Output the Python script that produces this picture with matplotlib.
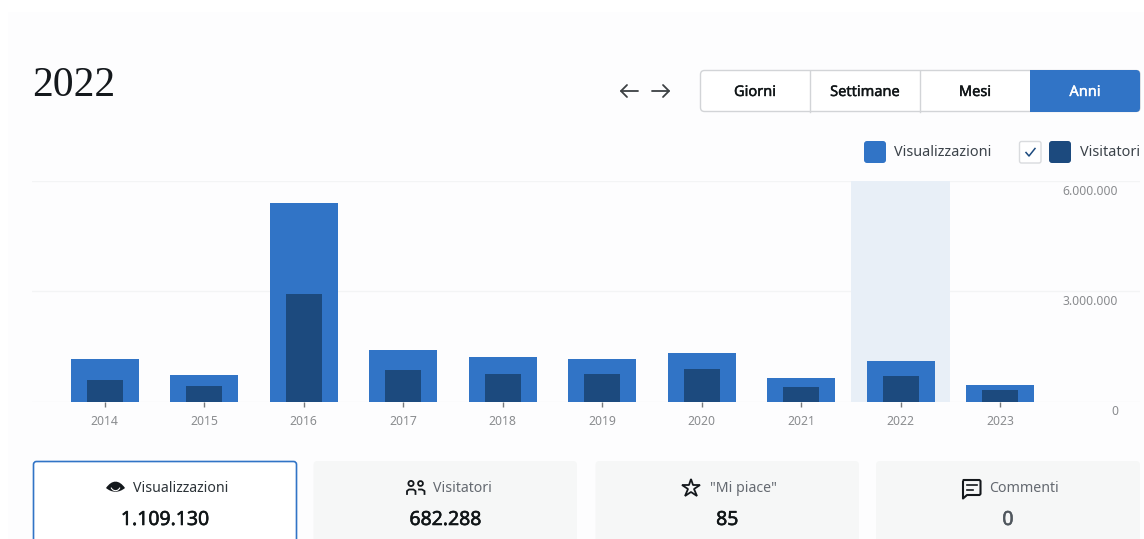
import matplotlib
matplotlib.use("Agg")
import matplotlib.pyplot as plt
import matplotlib.patheffects as pe
from matplotlib.patches import FancyBboxPatch, Rectangle, PathPatch, Circle, Wedge
from matplotlib.path import Path

# ─── Data ─────────────────────────────────────────────────────────────────────
years = [2014, 2015, 2016, 2017, 2018, 2019, 2020, 2021, 2022, 2023]
views = [1170000, 720000, 5400000, 1400000, 1210000, 1157000, 1320000, 640000, 1109130, 450000]
visitors = [585000, 420000, 2930000, 845000, 750000, 735000, 885000, 395000, 682288, 300000]
y_ticks = [0, 3000000, 6000000]
y_tick_labels = ["0", "3.000.000", "6.000.000"]
selected_year = 2022

periods = ["Giorni", "Settimane", "Mesi", "Anni"]
stat_names = ["Visualizzazioni", "Visitatori", '"Mi piace"', "Commenti"]
stat_values = ["1.109.130", "682.288", "85", "0"]

# ─── Style ────────────────────────────────────────────────────────────────────
BLUE = "#3174c6"
NAVY = "#1c4a7e"
BAND = "#e8eff7"
PANEL = "#fdfdfe"
CARD = "#f6f7f7"
GRID = "#f3f4f5"
TICK = "#8a8c8f"
INK = "#14181c"
FONT = "Noto Sans"

plt.rcParams["font.family"] = [FONT, "DejaVu Sans"]

W, H = 1144, 539
fig = plt.figure(figsize=(W / 100, H / 100), dpi=100, facecolor="white")

# Page furniture is laid out in pixels on a full-figure axes
ui = fig.add_axes([0, 0, 1, 1])
ui.set_xlim(0, W)
ui.set_ylim(H, 0)
ui.axis("off")


def round_box(x0, y0, x1, y1, radius=4, **kw):
    box = FancyBboxPatch((x0 + radius, y0 + radius), x1 - x0 - 2 * radius, y1 - y0 - 2 * radius,
                         boxstyle=f"round,pad={radius},rounding_size={radius}", **kw)
    ui.add_patch(box)
    return box


def heavy(color, width=0.3):
    # the installed Noto Sans has no semibold cut, so thicken the regular one
    return [pe.withStroke(linewidth=width, foreground=color)]


ui.add_patch(Rectangle((8, 12), W - 8, H - 12, fc=PANEL, ec="none"))
ui.text(32, 86, "2022", family=["Liberation Serif", "DejaVu Serif"], fontsize=30,
        color=INK, ha="left", va="center")

# Previous / next arrows
for x_tip, x_tail in [(621, 638), (669, 652)]:
    direction = 1 if x_tip < x_tail else -1
    ui.plot([x_tail, x_tip], [91, 91], color="#3c4043", lw=1.3, solid_capstyle="round")
    ui.plot([x_tip + 6 * direction, x_tip, x_tip + 6 * direction], [85, 91, 97],
            color="#3c4043", lw=1.3, solid_capstyle="round", solid_joinstyle="round")

# Period switcher
btn_left, btn_w = 700, 110
round_box(700.5, 70.5, 1140, 111.5, radius=4, fc="white", ec="#d2d4d7", lw=1)
round_box(1030, 70, 1140, 112, radius=4, fc=BLUE, ec="none")
ui.add_patch(Rectangle((1030, 70), 8, 42, fc=BLUE, ec="none"))
for i, label in enumerate(periods):
    cx = btn_left + btn_w * (i + 0.5)
    if 0 < i < 3:
        ui.plot([btn_left + btn_w * i] * 2, [70.5, 111.5], color="#d2d4d7", lw=1)
    color = "white" if label == "Anni" else "#101517"
    ui.text(cx, 92.5, label, fontsize=10.5, color=color, ha="center", va="center",
            path_effects=heavy(color))

# Legend
round_box(864, 141, 886, 163, radius=3, fc=BLUE, ec="none")
ui.text(894, 153, "Visualizzazioni", fontsize=10.4, color="#3c434a", ha="left", va="center")
round_box(1019.5, 141.5, 1041, 163, radius=2, fc="white", ec="#d9dbde", lw=1)
ui.plot([1026, 1029, 1035], [152.5, 156, 148.5], color=NAVY, lw=1.1)
round_box(1049, 141, 1071, 163, radius=3, fc=NAVY, ec="none")
ui.text(1080, 153, "Visitatori", fontsize=10.4, color="#3c434a", ha="left", va="center")

# Summary cards, cut off by the bottom of the page
card_edges = [(33, 297), (313.5, 577), (595.5, 859), (876, 1140)]
label_starts = [133, 433, 710, 989]
for i, (x0, x1) in enumerate(card_edges):
    if i == 0:
        round_box(x0 + 0.5, 461.5, x1 - 0.5, H + 12, radius=3, fc="white", ec=BLUE, lw=1.2)
    else:
        round_box(x0, 461, x1, H + 12, radius=4, fc=CARD, ec="none")
    ui.text(label_starts[i], 489, stat_names[i], fontsize=10.2,
            color="#2c3338" if i == 0 else "#646970", ha="left", va="center")
    color = "#50575e" if stat_values[i] == "0" else "#101517"
    ui.text((x0 + x1) / 2, 520, stat_values[i], fontsize=14, color=color, ha="center",
            va="center", path_effects=heavy(color, 0.4))

# Eye icon
eye = Path([(106, 488), (112, 479.5), (119, 479.5), (125, 488), (119, 493), (112, 493), (106, 488)],
           [Path.MOVETO, Path.CURVE4, Path.CURVE4, Path.CURVE4, Path.CURVE4, Path.CURVE4, Path.CURVE4])
ui.add_patch(PathPatch(eye, fc=INK, ec="none"))
ui.add_patch(Wedge((115.5, 486), 5.2, 20, 160, width=1.1, fc="white", ec="none"))

# People icon
for cx, r in [(411, 2.6), (420.5, 2.4)]:
    ui.add_patch(Circle((cx, 483.5), r, fc="none", ec=INK, lw=1.3))
ui.plot([407, 407, 409, 413.5, 415.5, 415.5], [494, 491, 489.5, 489.5, 491, 494], color=INK, lw=1.3)
ui.plot([419, 422, 424.5, 424.5], [489.5, 489.5, 491, 494], color=INK, lw=1.3)

# Star icon
ui.plot([691], [488], marker="*", ms=13.5, mfc="none", mec=INK, mew=1.3)

# Comment icon
bubble = Path([(963, 481), (963.5, 480), (979.5, 480), (980.5, 481), (980.5, 494), (979.5, 495),
               (967, 495), (963, 498.5), (963, 481)])
ui.add_patch(PathPatch(bubble, fc="none", ec=INK, lw=1.5, joinstyle="round"))
ui.plot([967, 976.5], [485, 485], color=INK, lw=1.2)
ui.plot([967, 973], [489.5, 489.5], color=INK, lw=1.2)

# ─── Bar chart ────────────────────────────────────────────────────────────────
ax = fig.add_axes([32 / W, 1 - 401.5 / H, (1140 - 32) / W, (401.5 - 181) / H])
ax.patch.set_alpha(0)
positions = list(range(len(years)))
ax.set_xlim(-0.731, 10.405)
ax.set_ylim(0, 6000000)

sel = years.index(selected_year)
ax.axvspan(sel - 0.5, sel + 0.5, color=BAND, lw=0, zorder=1)
for v in y_ticks:
    ax.axhline(v, color=GRID, lw=1, zorder=0)
    ax.annotate(y_tick_labels[y_ticks.index(v)], xy=(1, v), xycoords=ax.get_yaxis_transform(),
                xytext=(-15.8, -7.4), textcoords="offset points", fontsize=8.8, color=TICK,
                ha="right", va="center")

ax.bar(positions, views, width=68 / 99.5, color=BLUE, zorder=2)
ax.bar(positions, visitors, width=36 / 99.5, color=NAVY, zorder=3)

ax.set_xticks(positions)
ax.set_xticklabels(years, fontsize=8.8, color=TICK)
ax.set_yticks([])
ax.tick_params(axis="x", length=3.4, width=1, color="#77797c", pad=6.2)
for spine in ax.spines.values():
    spine.set_visible(False)

fig.savefig("out.png", dpi=100, facecolor=fig.get_facecolor())
